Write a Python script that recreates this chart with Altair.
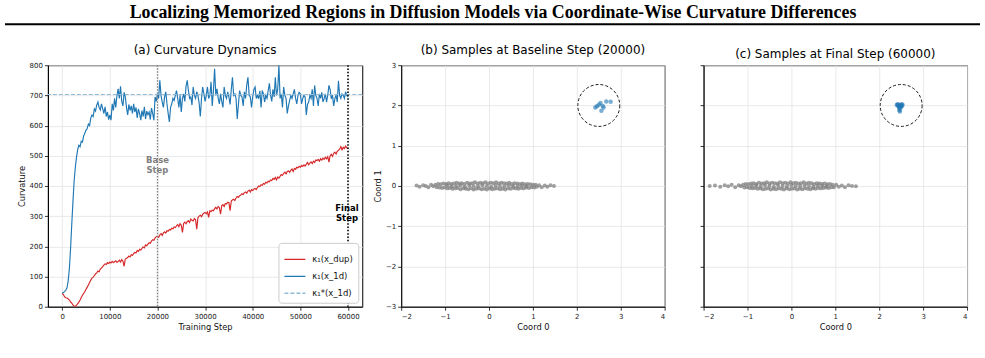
import altair as alt
import pandas as pd

TITLE = "Localizing Memorized Regions in Diffusion Models via Coordinate-Wise Curvature Differences"
PANEL_TITLES = ["(a) Curvature Dynamics", "(b) Samples at Baseline Step (20000)", "(c) Samples at Final Step (60000)"]
SERIES_LABELS = ["κ₁(x_dup)", "κ₁(x_1d)", "κ₁*(x_1d)"]
SERIES_COLORS = ["#d62728", "#1f77b4", "#8fbbd9"]

STEP_START, STEP_END, STEP_DELTA = 0, 60000, 250
BASE_STEP = 20000
FINAL_STEP = 60000
KAPPA_STAR = 703
CURV_TICKS = [0, 100, 200, 300, 400, 500, 600, 700, 800]
STEP_TICKS = [0, 10000, 20000, 30000, 40000, 50000, 60000]
COORD_X_TICKS = [-2, -1, 0, 1, 2, 3, 4]
COORD_Y_TICKS = [-3, -2, -1, 0, 1, 2, 3]

# kappa_1(x_1d), one value every 250 steps
KAPPA_1D = [
    45, 47, 50, 55, 62, 85, 125, 190, 270, 345, 415, 460, 495, 520, 535, 530, 548, 545, 565, 575,
    585, 590, 605, 600, 625, 635, 630, 655, 648, 668, 678, 660, 652, 672, 656, 640, 662, 630, 645, 620,
    635, 618, 672, 650, 690, 660, 700, 722, 690, 730, 680, 665, 710, 695, 660, 635, 670, 650, 665, 640,
    672, 645, 660, 625, 655, 640, 618, 650, 630, 662, 622, 648, 636, 645, 620, 658, 640, 618, 695, 680,
    705, 690, 750, 700, 678, 660, 695, 712, 672, 640, 612, 660, 672, 690, 683, 700, 716, 690, 660, 700,
    645, 690, 705, 680, 730, 750, 716, 690, 695, 668, 728, 700, 690, 712, 700, 675, 630, 690, 728, 705,
    680, 700, 728, 690, 700, 745, 665, 715, 788, 700, 722, 690, 672, 705, 680, 660, 728, 700, 690, 712,
    695, 670, 720, 760, 700, 705, 690, 622, 670, 716, 700, 695, 665, 712, 690, 735, 760, 700, 695, 660,
    695, 720, 728, 690, 700, 689, 715, 660, 716, 705, 678, 700, 690, 716, 740, 700, 680, 720, 695, 760,
    700, 720, 800, 690, 705, 660, 728, 700, 690, 640, 665, 683, 700, 690, 705, 720, 690, 672, 700, 710,
    705, 672, 690, 700, 695, 635, 670, 678, 700, 690, 720, 665, 733, 700, 690, 665, 705, 690, 710, 678,
    690, 705, 678, 700, 733, 720, 689, 700, 665, 690, 700, 678, 748, 700, 690, 705, 700, 690, 712, 700,
    695,
]

# kappa_1(x_dup), one value every 250 steps
KAPPA_DUP = [
    45, 40, 33, 30, 29, 26, 22, 16, 12, 6, 2, 1, 5, 10, 15, 22, 30, 38, 44, 50,
    58, 64, 72, 80, 88, 95, 98, 103, 109, 112, 118, 116, 125, 128, 133, 138, 142, 140, 146, 143,
    148, 145, 150, 146, 149, 152, 147, 150, 154, 148, 156, 151, 134, 158, 160, 163, 168, 165, 172, 170,
    176, 180, 178, 186, 183, 190, 188, 193, 198, 195, 205, 202, 207, 212, 210, 218, 222, 220, 228, 232,
    233, 230, 238, 242, 236, 245, 248, 244, 252, 250, 256, 254, 260, 258, 264, 262, 268, 272, 265, 275,
    270, 246, 276, 280, 275, 282, 285, 279, 290, 286, 284, 292, 288, 257, 295, 300, 303, 298, 306, 310,
    312, 308, 314, 296, 318, 315, 320, 318, 325, 329, 324, 332, 328, 307, 335, 338, 332, 342, 340, 346,
    345, 318, 350, 354, 356, 352, 360, 365, 362, 368, 370, 374, 372, 378, 380, 376, 383, 386, 380, 388,
    385, 390, 392, 388, 395, 400, 398, 404, 402, 408, 406, 412, 410, 416, 414, 420, 418, 425, 422, 428,
    420, 430, 426, 432, 438, 435, 442, 446, 440, 448, 450, 445, 452, 456, 448, 458, 455, 462, 460, 465,
    462, 468, 465, 470, 466, 472, 478, 470, 476, 480, 474, 482, 478, 486, 484, 488, 482, 490, 486, 492,
    488, 495, 490, 497, 479, 500, 505, 498, 508, 512, 506, 515, 518, 522, 530, 520, 528, 524, 532, 526,
    524,
]

# generated samples, panel (b): bulk (gray) and memorized (blue)
GRAY_B_X = [
    -1.22, -1.16, -1.10, -1.04, -0.98, -0.92, -0.86, -0.80, -0.74, -0.68, -0.62, -0.56, -0.50, -0.44, -0.38,
    -0.32, -0.26, -0.20, -0.14, -0.08, -0.02, 0.04, 0.10, 0.16, 0.22, 0.28, 0.34, 0.40, 0.46, 0.52,
    0.58, 0.64, 0.70, 0.76, 0.82, 0.88, 0.94, 1.00, 1.06,
    -1.19, -1.13, -1.07, -1.01, -0.95, -0.89, -0.83, -0.77, -0.71, -0.65, -0.59, -0.53, -0.47, -0.41, -0.35,
    -0.29, -0.23, -0.17, -0.11, -0.05, 0.01, 0.07, 0.13, 0.19, 0.25, 0.31, 0.37, 0.43, 0.49, 0.55,
    0.61, 0.67, 0.73, 0.79, 0.85, 0.91, 0.97, 1.03, 1.09,
    -0.95, -0.85, -0.75, -0.65, -0.55, -0.45, -0.35, -0.25, -0.15, -0.05, 0.05, 0.15, 0.25, 0.35, 0.45,
    0.55, 0.65, 0.75, 0.85,
    -1.65, -1.58, -1.50, -1.44, -1.38, -1.32, -1.27, 1.14, 1.20, 1.27, 1.33, 1.40, 1.48,
]
GRAY_B_Y = [
    0.03, 0.05, 0.04, 0.06, 0.05, 0.07, 0.05, 0.06, 0.08, 0.06, 0.07, 0.05, 0.08, 0.06, 0.07,
    0.09, 0.06, 0.08, 0.07, 0.09, 0.06, 0.08, 0.07, 0.09, 0.06, 0.08, 0.07, 0.06, 0.08, 0.05,
    0.07, 0.06, 0.05, 0.06, 0.04, 0.05, 0.04, 0.03, 0.03,
    -0.03, -0.04, -0.05, -0.04, -0.06, -0.05, -0.07, -0.06, -0.05, -0.08, -0.06, -0.07, -0.08, -0.06, -0.09,
    -0.07, -0.06, -0.08, -0.07, -0.09, -0.06, -0.08, -0.07, -0.06, -0.08, -0.07, -0.09, -0.06, -0.07, -0.05,
    -0.06, -0.07, -0.05, -0.06, -0.04, -0.05, -0.03, -0.04, -0.02,
    0.01, -0.01, 0.00, 0.02, -0.02, 0.01, 0.00, -0.01, 0.02, 0.00, -0.02, 0.01, 0.00, -0.01, 0.02,
    0.00, -0.01, 0.01, 0.00,
    0.01, -0.02, 0.02, 0.00, -0.03, 0.03, -0.01, 0.02, -0.03, 0.01, -0.02, 0.02, 0.00,
]
BLUE_B_X = [2.42, 2.46, 2.54, 2.59, 2.56, 2.67, 2.77, 2.61, 2.50]
BLUE_B_Y = [1.95, 1.98, 2.06, 1.99, 1.87, 2.10, 2.09, 1.95, 2.02]

# generated samples, panel (c)
GRAY_C_X = [
    -1.10, -1.04, -0.98, -0.92, -0.86, -0.80, -0.74, -0.68, -0.62, -0.56, -0.50, -0.44, -0.38, -0.32, -0.26,
    -0.20, -0.14, -0.08, -0.02, 0.04, 0.10, 0.16, 0.22, 0.28, 0.34, 0.40, 0.46, 0.52, 0.58, 0.64,
    0.70, 0.76, 0.82, 0.88, 0.94,
    -1.07, -1.01, -0.95, -0.89, -0.83, -0.77, -0.71, -0.65, -0.59, -0.53, -0.47, -0.41, -0.35, -0.29, -0.23,
    -0.17, -0.11, -0.05, 0.01, 0.07, 0.13, 0.19, 0.25, 0.31, 0.37, 0.43, 0.49, 0.55, 0.61, 0.67,
    0.73, 0.79, 0.85, 0.91, 0.97,
    -0.90, -0.80, -0.70, -0.60, -0.50, -0.40, -0.30, -0.20, -0.10, 0.00, 0.10, 0.20, 0.30, 0.40, 0.50,
    0.60, 0.70, 0.80,
    -1.86, -1.74, -1.62, -1.52, -1.44, -1.36, -1.28, -1.20, -1.15, 1.02, 1.08, 1.15, 1.22, 1.30, 1.38, 1.47,
]
GRAY_C_Y = [
    0.03, 0.05, 0.04, 0.06, 0.07, 0.05, 0.08, 0.06, 0.07, 0.09, 0.06, 0.08, 0.07, 0.06, 0.09,
    0.07, 0.08, 0.06, 0.09, 0.07, 0.08, 0.06, 0.07, 0.09, 0.06, 0.08, 0.07, 0.05, 0.07, 0.06,
    0.05, 0.06, 0.04, 0.05, 0.03,
    -0.04, -0.03, -0.05, -0.06, -0.05, -0.07, -0.06, -0.08, -0.07, -0.06, -0.09, -0.07, -0.08, -0.06, -0.07,
    -0.09, -0.06, -0.08, -0.07, -0.06, -0.09, -0.07, -0.08, -0.06, -0.07, -0.08, -0.06, -0.07, -0.05, -0.06,
    -0.05, -0.04, -0.05, -0.03, -0.03,
    0.00, 0.01, -0.01, 0.02, 0.00, -0.02, 0.01, 0.00, -0.01, 0.02, 0.00, -0.01, 0.01, 0.00, -0.02,
    0.01, 0.00, -0.01,
    0.00, 0.01, -0.02, 0.02, -0.01, 0.03, -0.03, 0.02, -0.01, 0.03, -0.02, 0.01, -0.03, 0.02, 0.00, -0.01,
]
BLUE_C_X = [2.40, 2.43, 2.46, 2.49, 2.52, 2.50, 2.45, 2.47, 2.46, 2.47, 2.44, 2.51, 2.48, 2.42, 2.53]
BLUE_C_Y = [2.01, 2.02, 2.00, 2.01, 1.99, 1.96, 1.95, 1.92, 1.88, 1.85, 1.98, 2.03, 1.97, 2.03, 2.02]

MEM_CENTER_X = [2.5]
MEM_CENTER_Y = [2.0]

# ---------------------------------------------------------------- panel (a)
steps = list(range(STEP_START, STEP_END + 1, STEP_DELTA))
curve_df = pd.concat([
    pd.DataFrame({"step": steps, "value": KAPPA_DUP, "series": SERIES_LABELS[0]}),
    pd.DataFrame({"step": steps, "value": KAPPA_1D, "series": SERIES_LABELS[1]}),
])
star_df = pd.DataFrame({"value": [KAPPA_STAR], "series": [SERIES_LABELS[2]]})

color_scale = alt.Scale(domain=SERIES_LABELS, range=SERIES_COLORS)
dash_scale = alt.Scale(domain=SERIES_LABELS, range=[[1, 0], [1, 0], [4, 2]])
leg = alt.Legend(
    title=None, orient="bottom-right", symbolType="stroke", symbolSize=440,
    symbolStrokeWidth=1.3, labelFontSize=8.5, labelFont="DejaVu Sans", labelColor="#111",
    fillColor="white", strokeColor="#cccccc", cornerRadius=3, padding=5, offset=4,
    rowPadding=1, labelOffset=6,
)

x_step = alt.X("step:Q", scale=alt.Scale(domain=[-3000, 63000], nice=False, zero=False),
               axis=alt.Axis(values=STEP_TICKS, format="d", title="Training Step", labelOverlap=False))
y_curv = alt.Y("value:Q", scale=alt.Scale(domain=[0, 800], nice=False),
               axis=alt.Axis(values=CURV_TICKS, title="Curvature", labelOverlap=False))

star_rule = alt.Chart(star_df).mark_rule(strokeWidth=1.2).encode(
    y=y_curv,
    color=alt.Color("series:N", scale=color_scale, legend=leg),
    strokeDash=alt.StrokeDash("series:N", scale=dash_scale, legend=leg),
)
curves = alt.Chart(curve_df).mark_line(strokeWidth=1.15, clip=True).encode(
    x=x_step, y=y_curv,
    color=alt.Color("series:N", scale=color_scale, legend=leg),
    strokeDash=alt.StrokeDash("series:N", scale=dash_scale, legend=leg),
)
base_rule = alt.Chart(pd.DataFrame({"step": [BASE_STEP]})).mark_rule(
    color="#7f7f7f", strokeDash=[1.5, 1.5], strokeWidth=1.3).encode(x=x_step)
final_rule = alt.Chart(pd.DataFrame({"step": [FINAL_STEP]})).mark_rule(
    color="black", strokeDash=[1.5, 1.8], strokeWidth=1.6).encode(x=x_step)
base_text = alt.Chart(pd.DataFrame({"step": [BASE_STEP], "value": [486]})).mark_text(
    text=["Base", "Step"], fontWeight="bold", color="#7f7f7f", fontSize=8.5,
    font="DejaVu Sans", lineHeight=10).encode(x=x_step, y=y_curv)
final_text = alt.Chart(pd.DataFrame({"step": [FINAL_STEP], "value": [328]})).mark_text(
    text=["Final", "Step"], fontWeight="bold", color="black", fontSize=8.5,
    font="DejaVu Sans", lineHeight=10, dx=-1).encode(x=x_step, y=y_curv)

panel_a = alt.layer(curves, star_rule, base_rule, final_rule, base_text, final_text).properties(
    width=315, height=242, title=PANEL_TITLES[0])


# ---------------------------------------------------------------- panels (b), (c)
def scatter_panel(gx, gy, bx, by, title, show_y):
    xs = alt.X("x:Q", scale=alt.Scale(domain=[-2, 4], nice=False, zero=False),
               axis=alt.Axis(values=COORD_X_TICKS, title="Coord 0"))
    if show_y:
        yaxis = alt.Axis(values=COORD_Y_TICKS, title="Coord 1")
    else:
        yaxis = alt.Axis(values=COORD_Y_TICKS, title=None, labels=False)
    ys = alt.Y("y:Q", scale=alt.Scale(domain=[-3, 3], nice=False, zero=False), axis=yaxis)
    gray = alt.Chart(pd.DataFrame({"x": gx, "y": gy})).mark_circle(
        size=16, opacity=0.75, color="#808080").encode(x=xs, y=ys)
    blue = alt.Chart(pd.DataFrame({"x": bx, "y": by})).mark_circle(
        size=20, opacity=0.6, color="#1f77b4").encode(x=xs, y=ys)
    ring = alt.Chart(pd.DataFrame({"x": MEM_CENTER_X, "y": MEM_CENTER_Y})).mark_point(
        shape="circle", filled=False, size=1764, color="black", strokeWidth=0.9,
        strokeDash=[3, 2], opacity=1).encode(x=xs, y=ys)
    return alt.layer(gray, blue, ring).properties(width=264, height=242, title=title)


panel_b = scatter_panel(GRAY_B_X, GRAY_B_Y, BLUE_B_X, BLUE_B_Y, PANEL_TITLES[1], True)
panel_c = scatter_panel(GRAY_C_X, GRAY_C_Y, BLUE_C_X, BLUE_C_Y, PANEL_TITLES[2], False)

panels = alt.hconcat(panel_a, panel_b, panel_c, spacing=39, bounds="flush").resolve_scale(
    color="independent", strokeDash="independent").resolve_legend(
    color="independent", strokeDash="independent")

# ---------------------------------------------------------------- header
hdr_data = pd.DataFrame({"t": [TITLE]})
hdr_rule = alt.Chart().mark_rule(color="black", strokeWidth=2).encode(
    x=alt.value(-43), x2=alt.value(934), y=alt.value(0))
hdr_text = alt.Chart().mark_text(
    font="Liberation Serif", fontWeight="bold", fontSize=17.9, color="black",
    baseline="middle", align="center").encode(
    text="t:N", x=alt.value(446), y=alt.value(-11))
header = alt.layer(hdr_rule, hdr_text, data=hdr_data).properties(
    width=921, height=1, view=alt.ViewBackground(strokeOpacity=0))

chart = alt.vconcat(header, panels, spacing=40, bounds="flush").resolve_scale(
    color="independent", strokeDash="independent").resolve_legend(
    color="independent", strokeDash="independent").properties(
    padding={"left": 4, "top": 4, "right": 4, "bottom": 4}
).configure_view(
    stroke="black", strokeWidth=1
).configure_axis(
    gridColor="#e3e3e3", gridWidth=0.8, domainColor="black", domainWidth=1,
    tickColor="black", tickSize=3.5, tickWidth=0.8,
    labelFontSize=7, labelColor="#222", labelFont="DejaVu Sans", labelPadding=2,
    titleFontSize=8.3, titleFontWeight="normal", titleColor="#111", titleFont="DejaVu Sans",
    titlePadding=3,
).configure_title(
    font="DejaVu Sans", fontSize=12, fontWeight="normal", color="black", offset=4
)

chart.save("out.html", embed_options={"renderer": "svg", "actions": False})
